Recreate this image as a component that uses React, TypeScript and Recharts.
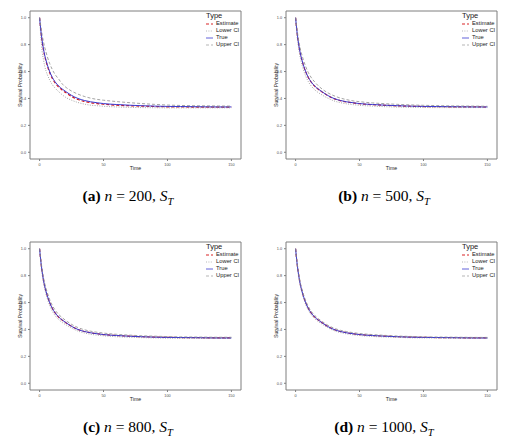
import React from "react";
import { LineChart, Line, XAxis, YAxis, ReferenceArea } from "recharts";

const times = [
  0, 1, 2, 3, 4, 5, 6, 8, 10, 12, 15, 18, 21, 25, 30, 35, 40, 45, 50, 60, 70,
  80, 90, 100, 110, 120, 130, 140, 150,
];

const trueSurv = [
  1.0, 0.905, 0.83, 0.77, 0.722, 0.685, 0.652, 0.597, 0.556, 0.525, 0.492,
  0.468, 0.448, 0.423, 0.4, 0.385, 0.375, 0.368, 0.362, 0.355, 0.35, 0.346,
  0.343, 0.341, 0.34, 0.339, 0.338, 0.337, 0.337,
];

// n = 200
const estA = [
  1.0, 0.9, 0.822, 0.762, 0.714, 0.677, 0.644, 0.589, 0.548, 0.517, 0.484,
  0.46, 0.44, 0.415, 0.392, 0.378, 0.368, 0.362, 0.357, 0.35, 0.346, 0.343,
  0.34, 0.338, 0.337, 0.336, 0.336, 0.335, 0.335,
];
const lowA = [
  1.0, 0.86, 0.75, 0.69, 0.64, 0.605, 0.578, 0.535, 0.502, 0.478, 0.45, 0.425,
  0.405, 0.387, 0.37, 0.358, 0.35, 0.346, 0.342, 0.337, 0.334, 0.332, 0.331,
  0.33, 0.33, 0.33, 0.33, 0.33, 0.33,
];
const upA = [
  1.0, 0.935, 0.872, 0.823, 0.78, 0.745, 0.712, 0.657, 0.614, 0.58, 0.543,
  0.505, 0.48, 0.455, 0.432, 0.415, 0.402, 0.393, 0.387, 0.377, 0.369, 0.362,
  0.356, 0.351, 0.348, 0.346, 0.345, 0.344, 0.343,
];

// n = 500
const estB = [
  1.0, 0.902, 0.826, 0.767, 0.719, 0.683, 0.65, 0.596, 0.555, 0.524, 0.491,
  0.466, 0.446, 0.422, 0.399, 0.384, 0.374, 0.367, 0.361, 0.354, 0.349, 0.345,
  0.342, 0.34, 0.339, 0.338, 0.337, 0.337, 0.336,
];
const lowB = [
  1.0, 0.88, 0.8, 0.738, 0.688, 0.65, 0.617, 0.564, 0.524, 0.495, 0.464, 0.442,
  0.424, 0.403, 0.382, 0.369, 0.36, 0.354, 0.349, 0.343, 0.339, 0.336, 0.334,
  0.333, 0.332, 0.332, 0.332, 0.332, 0.332,
];
const upB = [
  1.0, 0.925, 0.855, 0.802, 0.757, 0.722, 0.69, 0.635, 0.592, 0.559, 0.522,
  0.492, 0.468, 0.443, 0.42, 0.403, 0.391, 0.382, 0.376, 0.367, 0.361, 0.356,
  0.352, 0.349, 0.347, 0.345, 0.344, 0.343, 0.342,
];

// n = 800
const estC = [
  1.0, 0.904, 0.829, 0.769, 0.721, 0.684, 0.651, 0.597, 0.556, 0.525, 0.491,
  0.467, 0.447, 0.423, 0.4, 0.385, 0.375, 0.368, 0.362, 0.355, 0.35, 0.346,
  0.343, 0.341, 0.34, 0.339, 0.338, 0.337, 0.337,
];
const lowC = [
  1.0, 0.89, 0.812, 0.75, 0.701, 0.663, 0.63, 0.575, 0.535, 0.505, 0.473, 0.45,
  0.432, 0.41, 0.388, 0.374, 0.364, 0.358, 0.353, 0.346, 0.342, 0.339, 0.337,
  0.335, 0.334, 0.334, 0.333, 0.333, 0.333,
];
const upC = [
  1.0, 0.918, 0.846, 0.79, 0.743, 0.707, 0.675, 0.62, 0.578, 0.546, 0.511,
  0.485, 0.463, 0.438, 0.414, 0.398, 0.387, 0.379, 0.373, 0.364, 0.358, 0.353,
  0.35, 0.347, 0.345, 0.344, 0.343, 0.342, 0.342,
];

// n = 1000
const estD = [
  1.0, 0.905, 0.83, 0.77, 0.722, 0.685, 0.652, 0.597, 0.556, 0.525, 0.492,
  0.468, 0.448, 0.423, 0.4, 0.385, 0.375, 0.368, 0.362, 0.355, 0.35, 0.346,
  0.343, 0.341, 0.34, 0.339, 0.338, 0.337, 0.337,
];
const lowD = [
  1.0, 0.895, 0.818, 0.757, 0.709, 0.671, 0.638, 0.583, 0.542, 0.512, 0.48,
  0.457, 0.438, 0.414, 0.391, 0.377, 0.367, 0.36, 0.355, 0.348, 0.344, 0.341,
  0.338, 0.337, 0.336, 0.335, 0.334, 0.334, 0.334,
];
const upD = [
  1.0, 0.914, 0.841, 0.783, 0.735, 0.699, 0.666, 0.611, 0.57, 0.538, 0.504,
  0.479, 0.458, 0.433, 0.41, 0.394, 0.384, 0.376, 0.37, 0.362, 0.356, 0.351,
  0.348, 0.345, 0.344, 0.343, 0.342, 0.341, 0.341,
];

const xTicks = [0, 50, 100, 150];
const yTicks = [0, 0.2, 0.4, 0.6, 0.8, 1.0];

const panels = [
  { tag: "(a)", n: "200", est: estA, low: lowA, up: upA, left: 0, top: 0 },
  { tag: "(b)", n: "500", est: estB, low: lowB, up: upB, left: 256, top: 0 },
  { tag: "(c)", n: "800", est: estC, low: lowC, up: upC, left: 0, top: 231 },
  { tag: "(d)", n: "1000", est: estD, low: lowD, up: upD, left: 256, top: 231 },
];

const series = [
  { key: "Estimate", color: "#d7191c", dash: "3 2", width: 1.2 },
  { key: "Lower CI", color: "#9e9e9e", dash: "1 1.4", width: 0.9 },
  { key: "True", color: "#3a3ad0", dash: undefined, width: 1.0 },
  { key: "Upper CI", color: "#8c8c8c", dash: "3 2", width: 0.8 },
];

const font = "'Liberation Sans', Arial, sans-serif";

function TypeLegend() {
  return (
    <div
      style={{
        position: "absolute",
        left: 206,
        top: 11.5,
        fontFamily: font,
        color: "#222",
        lineHeight: 1,
      }}
    >
      <div style={{ fontSize: 7.5, marginBottom: 1.5 }}>Type</div>
      {series.map((s) => (
        <div
          key={s.key}
          style={{ display: "flex", alignItems: "center", height: 7.1 }}
        >
          <svg width={8} height={4} style={{ marginRight: 2 }}>
            <line
              x1={0}
              y1={2}
              x2={7}
              y2={2}
              stroke={s.color}
              strokeWidth={s.width * 0.8}
              strokeDasharray={s.dash}
            />
          </svg>
          <span style={{ fontSize: 5.8 }}>{s.key}</span>
        </div>
      ))}
    </div>
  );
}

function Panel({ p }) {
  const data = times.map((t, i) => ({
    time: t,
    Estimate: p.est[i],
    "Lower CI": p.low[i],
    True: trueSurv[i],
    "Upper CI": p.up[i],
  }));

  return (
    <div style={{ position: "absolute", left: p.left, top: p.top }}>
      <LineChart
        width={256}
        height={180}
        data={data}
        margin={{ top: 11, right: 15, bottom: 9, left: 18 }}
      >
        <XAxis
          dataKey="time"
          type="number"
          domain={[-7.5, 157.5]}
          ticks={xTicks}
          allowDataOverflow
          height={12}
          tickSize={2}
          tickLine={{ stroke: "#7f7f7f" }}
          axisLine={false}
          tick={{ fontSize: 3.8, fill: "#4d4d4d", fontFamily: font }}
          label={{
            value: "Time",
            position: "insideBottom",
            offset: 1,
            style: { fontSize: 5.2, fill: "#222", fontFamily: font },
          }}
        />
        <YAxis
          type="number"
          domain={[-0.05, 1.05]}
          ticks={yTicks}
          allowDataOverflow
          width={12}
          tickSize={2}
          tickLine={{ stroke: "#7f7f7f" }}
          axisLine={false}
          tickFormatter={(v) => v.toFixed(1)}
          tick={{ fontSize: 3.8, fill: "#4d4d4d", fontFamily: font }}
          label={{
            value: "Survival Probability",
            angle: -90,
            position: "insideLeft",
            offset: 2,
            style: {
              fontSize: 5.2,
              fill: "#222",
              fontFamily: font,
              textAnchor: "middle",
            },
          }}
        />
        {series.map((s) => (
          <Line
            key={s.key}
            dataKey={s.key}
            type="monotone"
            stroke={s.color}
            strokeWidth={s.width}
            strokeDasharray={s.dash}
            dot={false}
            isAnimationActive={false}
          />
        ))}
        <ReferenceArea
          x1={-7.5}
          x2={157.5}
          y1={-0.05}
          y2={1.05}
          fill="none"
          stroke="#7f7f7f"
          strokeWidth={1}
          ifOverflow="visible"
        />
      </LineChart>
      <TypeLegend />
      <div
        style={{
          position: "absolute",
          left: 0,
          top: 187,
          width: 256,
          textAlign: "center",
          fontFamily: "'Liberation Serif', 'Times New Roman', serif",
          fontSize: 15.5,
          lineHeight: "18px",
          color: "#000",
        }}
      >
        <b>{p.tag}</b> <i>n</i> = {p.n}, <i>S</i>
        <sub style={{ fontSize: 10.5, fontStyle: "italic", lineHeight: 0 }}>
          T
        </sub>
      </div>
    </div>
  );
}

export default function App() {
  return (
    <div
      style={{
        position: "absolute",
        left: 0,
        top: 0,
        width: 511,
        height: 440,
        background: "#fff",
      }}
    >
      {panels.map((p) => (
        <Panel key={p.tag} p={p} />
      ))}
    </div>
  );
}
